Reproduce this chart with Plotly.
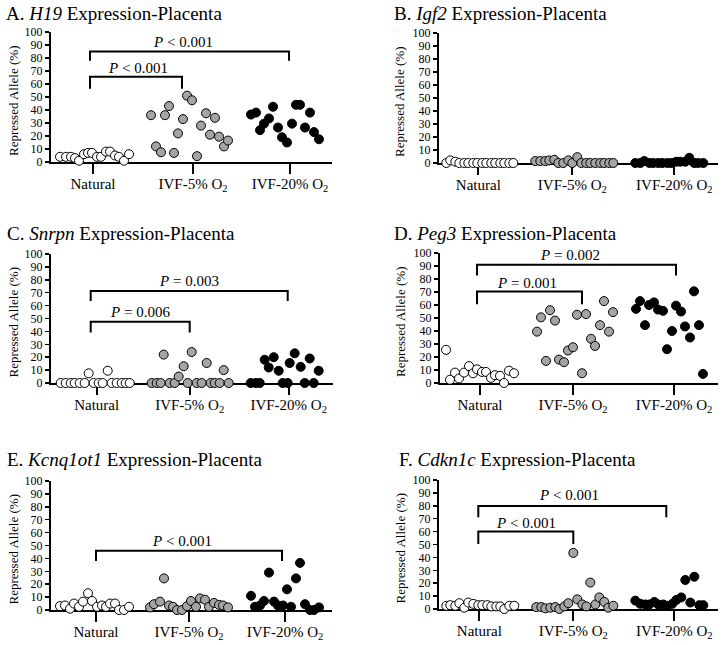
import plotly.graph_objects as go

W, H = 722, 645
FONT = "Liberation Serif, Times New Roman, serif"

categories = ["Natural", "IVF-5% O<sub>2</sub>", "IVF-20% O<sub>2</sub>"]
y_tick_vals = [0, 10, 20, 30, 40, 50, 60, 70, 80, 90, 100]

# ---------------- Panel A: H19 ----------------
a_nat_x = [-0.30, -0.24, -0.19, -0.15, -0.11, -0.06, -0.02, 0.02, 0.07, 0.11, 0.16, 0.20, 0.25, 0.29, 0.34, 0.39]
a_nat_y = [4, 4, 4, 3, 1, 6, 7, 7, 4, 4, 8, 8, 5, 4, 1, 6]
a_5_x = [0.61, 0.66, 0.71, 0.75, 0.79, 0.84, 0.88, 0.93, 0.97, 1.02, 1.07, 1.11, 1.16, 1.20, 1.25, 1.29, 1.34, 1.38]
a_5_y = [36, 12, 7.5, 36, 43, 7, 22, 33, 51, 47.5, 4.5, 28, 37.5, 21, 34, 19.5, 12, 16.5]
a_20_x = [1.61, 1.66, 1.70, 1.74, 1.79, 1.83, 1.88, 1.92, 1.97, 2.02, 2.06, 2.10, 2.15, 2.20, 2.24, 2.29]
a_20_y = [36.5, 38, 24.5, 29.5, 33.5, 42.5, 26.5, 19, 15, 29.5, 44, 44, 26.5, 38, 23, 17.5]
a_pvals = ["<i>P</i> < 0.001", "<i>P</i> < 0.001"]

# ---------------- Panel B: Igf2 ----------------
b_nat_x = [-0.32, -0.28, -0.23, -0.19, -0.14, -0.10, -0.05, -0.01, 0.04, 0.08, 0.13, 0.17, 0.22, 0.26, 0.31, 0.35]
b_nat_y = [0, 2, 1, 0, 0, 0, 0, 0, 0, 0, 0, 0, 0, 0, 0, 0]
b_5_x = [0.57, 0.62, 0.67, 0.71, 0.76, 0.80, 0.85, 0.90, 0.94, 0.99, 1.03, 1.08, 1.12, 1.17, 1.22, 1.26, 1.31, 1.35]
b_5_y = [1.5, 1.5, 1.5, 2, 2.5, 0, 0, 2, 0, 4.5, 0, 0, 0, 0, 0, 0, 0, 0]
b_20_x = [1.57, 1.62, 1.66, 1.71, 1.75, 1.80, 1.84, 1.89, 1.93, 1.98, 2.02, 2.07, 2.11, 2.16, 2.20, 2.25]
b_20_y = [0, 0, 1.5, 0, 0, 0, 0, 0, 0, 1, 1, 1, 4, 0, 0, 0]
b_pvals = []

# ---------------- Panel C: Snrpn ----------------
c_nat_x = [-0.36, -0.31, -0.26, -0.22, -0.17, -0.12, -0.08, -0.03, 0.02, 0.06, 0.11, 0.15, 0.20, 0.25, 0.29, 0.33]
c_nat_y = [0, 0, 0, 0, 0, 0, 7.5, 0, 0, 0, 9.5, 0, 0, 0, 0, 0]
c_5_x = [0.55, 0.60, 0.64, 0.67, 0.73, 0.78, 0.82, 0.87, 0.91, 0.95, 1.00, 1.05, 1.10, 1.14, 1.18, 1.23, 1.27, 1.32]
c_5_y = [0, 0, 0, 22, 0, 0, 5, 13, 0, 24, 0, 0, 15.5, 0, 0, 0, 10, 0]
c_20_x = [1.54, 1.59, 1.63, 1.68, 1.72, 1.77, 1.82, 1.86, 1.91, 1.93, 1.98, 2.04, 2.08, 2.13, 2.17, 2.22]
c_20_y = [0, 0, 0, 18, 12, 20, 9.5, 0, 0, 15.5, 23, 12.5, 0, 19, 0, 9.5]
c_pvals = ["<i>P</i> = 0.003", "<i>P</i> = 0.006"]

# ---------------- Panel D: Peg3 ----------------
d_nat_x = [-0.34, -0.30, -0.25, -0.21, -0.16, -0.11, -0.07, -0.03, 0.02, 0.06, 0.11, 0.15, 0.20, 0.24, 0.29, 0.34]
d_nat_y = [25.5, 2.5, 8, 3.5, 8, 13, 7.5, 10.5, 8.5, 8.5, 4, 6, 5.5, 0, 9.5, 7.5]
d_5_x = [0.57, 0.61, 0.66, 0.70, 0.75, 0.79, 0.84, 0.88, 0.93, 0.97, 1.02, 1.06, 1.11, 1.15, 1.20, 1.24, 1.29, 1.33]
d_5_y = [39.5, 50.5, 17, 56, 48, 18, 16, 25, 27.5, 52.5, 7.5, 53, 34, 28.5, 44.5, 63, 39.5, 54.5]
d_20_x = [1.56, 1.60, 1.65, 1.69, 1.74, 1.78, 1.83, 1.87, 1.92, 1.96, 2.01, 2.05, 2.10, 2.14, 2.19, 2.23]
d_20_y = [57, 63, 44.5, 60, 62, 56.5, 55.5, 26, 40, 59.5, 55, 43.5, 35, 70.5, 44.5, 7]
d_pvals = ["<i>P</i> = 0.002", "<i>P</i> = 0.001"]

# ---------------- Panel E: Kcnq1ot1 ----------------
e_nat_x = [-0.36, -0.31, -0.26, -0.22, -0.17, -0.13, -0.08, -0.04, 0.01, 0.06, 0.10, 0.14, 0.19, 0.23, 0.28, 0.33]
e_nat_y = [3, 3.5, 1, 5, 2.5, 6.5, 13, 7, 2.5, 3.5, 2.5, 5, 5, 0, 0, 2.5]
e_5_x = [0.54, 0.58, 0.64, 0.68, 0.73, 0.77, 0.81, 0.86, 0.91, 0.95, 1.00, 1.04, 1.09, 1.13, 1.18, 1.23, 1.27, 1.32]
e_5_y = [2, 4.5, 6.5, 24.5, 3.5, 2.5, 0, 0, 3, 7, 2.5, 9, 8, 2.5, 5.5, 4, 3.5, 2]
e_20_x = [1.55, 1.59, 1.64, 1.68, 1.73, 1.78, 1.82, 1.87, 1.91, 1.95, 2.00, 2.04, 2.09, 2.14, 2.18, 2.23]
e_20_y = [11, 2.5, 3.5, 7, 29, 6.5, 3.5, 3.5, 16, 2.5, 24.5, 36.5, 4.5, 0, 0, 2]
e_pvals = ["<i>P</i> < 0.001"]

# ---------------- Panel F: Cdkn1c ----------------
f_nat_x = [-0.33, -0.29, -0.24, -0.20, -0.15, -0.11, -0.06, -0.01, 0.03, 0.08, 0.12, 0.17, 0.21, 0.25, 0.30, 0.35]
f_nat_y = [2.5, 3, 2.5, 4.5, 1, 5, 4, 3, 3, 3, 2, 2, 2, 0, 2.5, 2.5]
f_5_x = [0.57, 0.62, 0.66, 0.71, 0.76, 0.80, 0.85, 0.89, 0.94, 0.98, 1.03, 1.07, 1.11, 1.16, 1.20, 1.25, 1.29, 1.34]
f_5_y = [1.5, 1.5, 0.5, 1, 1.5, 0, 2, 4.5, 43.5, 7.5, 3.5, 2, 20.5, 3.5, 9, 5.5, 1, 2.5]
f_20_x = [1.56, 1.61, 1.66, 1.70, 1.75, 1.79, 1.84, 1.88, 1.93, 1.97, 2.02, 2.06, 2.11, 2.15, 2.20, 2.24]
f_20_y = [6.5, 4, 3.5, 3.5, 5.5, 3.5, 3.5, 2.5, 4, 7, 9, 22.5, 5, 25, 3, 3]
f_pvals = ["<i>P</i> < 0.001", "<i>P</i> < 0.001"]

titles = [
    "A. <i>H19</i> Expression-Placenta",
    "B. <i>Igf2</i> Expression-Placenta",
    "C. <i>Snrpn</i> Expression-Placenta",
    "D. <i>Peg3</i> Expression-Placenta",
    "E. <i>Kcnq1ot1</i> Expression-Placenta",
    "F. <i>Cdkn1c</i> Expression-Placenta",
]

# ---------------- layout geometry (pixels) ----------------
# box: left, right, top, bottom, pixel origin of the x units
geom = [
    dict(box=(51, 332, 32, 162, 90), ticks=[0.03, 1.03, 2.00], title_xy=(4, 13), ytitle_x=13,
         brackets=[(0, 1.99, 85, 77.8, 0.93, 92), (0, 0.92, 65.6, 56.3, 0.48, 72.6)]),
    dict(box=(439, 718, 33, 163, 478.3), ticks=[0, 0.94, 1.96], title_xy=(392, 13), ytitle_x=400,
         brackets=[]),
    dict(box=(51, 333, 254, 383, 96.7), ticks=[0, 0.93, 1.92], title_xy=(5, 233), ytitle_x=13,
         brackets=[(-0.06, 1.91, 71.4, 63.6, 0.92, 78.7), (-0.06, 0.93, 47.5, 39.2, 0.43, 54.8)]),
    dict(box=(440, 718, 253, 383, 480), ticks=[0, 0.93, 1.94], title_xy=(392, 233), ytitle_x=400,
         brackets=[(-0.03, 1.96, 91, 82.7, 0.90, 98.2), (-0.03, 1.02, 70.4, 60.6, 0.47, 76.8)]),
    dict(box=(51, 332, 481, 610, 96), ticks=[0, 0.93, 1.89], title_xy=(5, 459), ytitle_x=13,
         brackets=[(0, 1.86, 45.9, 37.9, 0.86, 53.4)]),
    dict(box=(439, 718, 480, 609, 479.3), ticks=[0, 0.94, 1.95], title_xy=(397, 459), ytitle_x=400,
         brackets=[(-0.01, 1.87, 79.8, 71.1, 0.90, 88.4), (-0.01, 0.94, 60, 50.4, 0.47, 67)]),
]

groups = [
    [(a_nat_x, a_nat_y), (a_5_x, a_5_y), (a_20_x, a_20_y)],
    [(b_nat_x, b_nat_y), (b_5_x, b_5_y), (b_20_x, b_20_y)],
    [(c_nat_x, c_nat_y), (c_5_x, c_5_y), (c_20_x, c_20_y)],
    [(d_nat_x, d_nat_y), (d_5_x, d_5_y), (d_20_x, d_20_y)],
    [(e_nat_x, e_nat_y), (e_5_x, e_5_y), (e_20_x, e_20_y)],
    [(f_nat_x, f_nat_y), (f_5_x, f_5_y), (f_20_x, f_20_y)],
]
pvals = [a_pvals, b_pvals, c_pvals, d_pvals, e_pvals, f_pvals]
fills = ["#ffffff", "#a4a4a4", "#000000"]

fig = go.Figure()
layout_axes = {}
annotations = []

for i in range(6):
    n = i + 1
    xa = "x" if n == 1 else f"x{n}"
    ya = "y" if n == 1 else f"y{n}"
    xkey = "xaxis" if n == 1 else f"xaxis{n}"
    ykey = "yaxis" if n == 1 else f"yaxis{n}"
    g = geom[i]
    left, right, top, bottom, nat = g["box"]

    for (gx, gy), col in zip(groups[i], fills):
        fig.add_trace(go.Scatter(
            x=gx, y=gy, mode="markers", xaxis=xa, yaxis=ya,
            marker=dict(size=9, color=col, line=dict(color="black", width=1)),
            cliponaxis=False, hoverinfo="skip", showlegend=False))

    for (x0, x1, yt, yb, tx, ty), txt in zip(g["brackets"], pvals[i]):
        fig.add_trace(go.Scatter(
            x=[x0, x0, x1, x1], y=[yb, yt, yt, yb], mode="lines", xaxis=xa, yaxis=ya,
            line=dict(color="black", width=2), hoverinfo="skip", showlegend=False))
        annotations.append(dict(x=tx, y=ty, xref=xa, yref=ya, text=txt, showarrow=False,
                                font=dict(size=15, family=FONT, color="black"),
                                xanchor="center", yanchor="middle"))

    layout_axes[xkey] = dict(
        domain=[left / W, right / W], anchor=ya, automargin=False,
        range=[(left - nat) / 100, (right - nat) / 100],
        showline=True, linewidth=2, linecolor="black", mirror=False,
        ticks="outside", ticklen=10, tickwidth=2, tickcolor="black",
        tickvals=g["ticks"], ticktext=categories, ticklabelstandoff=-3,
        tickfont=dict(size=15, family=FONT, color="black"),
        showgrid=False, zeroline=False, layer="below traces", fixedrange=True)
    layout_axes[ykey] = dict(
        domain=[1 - bottom / H, 1 - top / H], anchor=xa, automargin=False,
        range=[0, 100],
        showline=True, linewidth=2, linecolor="black",
        ticks="outside", ticklen=4, tickwidth=1.5, tickcolor="black",
        tickvals=y_tick_vals, tickfont=dict(size=12, family=FONT, color="black"),
        showgrid=False, zeroline=False, fixedrange=True)

    tx, ty = g["title_xy"]
    annotations.append(dict(x=tx / W, y=1 - ty / H, xref="paper", yref="paper", text=titles[i],
                            showarrow=False, xanchor="left", yanchor="middle",
                            font=dict(size=19, family=FONT, color="black")))
    annotations.append(dict(x=g["ytitle_x"] / W, y=1 - ((top + bottom) / 2 + 4) / H,
                            xref="paper", yref="paper", text="Repressed Allele (%)",
                            textangle=-90, showarrow=False, xanchor="center", yanchor="middle",
                            font=dict(size=13, family=FONT, color="black")))

fig.update_layout(
    template="none",
    width=W, height=H, margin=dict(l=0, r=0, t=0, b=0, pad=0), autosize=False,
    paper_bgcolor="white", plot_bgcolor="white",
    font=dict(family=FONT, color="black"),
    annotations=annotations, showlegend=False,
    **layout_axes)

fig.write_html("out.html", config={"displayModeBar": False, "staticPlot": True},
               post_script="document.body.style.margin='0px';document.body.style.padding='0px';")
